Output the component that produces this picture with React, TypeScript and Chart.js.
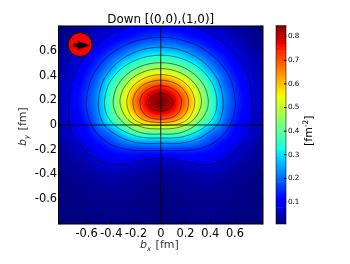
import React, { useEffect, useRef } from "react";
import { Chart, registerables } from "chart.js";

Chart.register(...registerables);

const FONT = "'DejaVu Sans'";
const titleText = "Down [(0,0),(1,0)]";
const tickValues = [-0.8, -0.6, -0.4, -0.2, 0, 0.2, 0.4, 0.6, 0.8];
const unlabelledTicks = [-0.8, 0.8];
const colorbarTicks = [0.1, 0.2, 0.3, 0.4, 0.5, 0.6, 0.7, 0.8];
const colorMin = 0.007;
const colorMax = 0.847;

// Density. Rows: b_y from 0.80 down to -0.80 in 0.05 steps.
// Columns: |b_x| = 0, 0.1 ... 0.8; the picture is mirror-symmetric in b_x.
const density: number[][] = [
  [0.106, 0.103, 0.095, 0.072, 0.055, 0.040, 0.028, 0.018, 0.011],
  [0.136, 0.130, 0.115, 0.095, 0.076, 0.056, 0.038, 0.024, 0.014],
  [0.168, 0.162, 0.140, 0.120, 0.095, 0.072, 0.050, 0.031, 0.018],
  [0.218, 0.210, 0.183, 0.155, 0.120, 0.088, 0.062, 0.038, 0.022],
  [0.275, 0.265, 0.235, 0.190, 0.148, 0.108, 0.073, 0.047, 0.028],
  [0.340, 0.330, 0.285, 0.235, 0.180, 0.132, 0.088, 0.056, 0.033],
  [0.410, 0.390, 0.345, 0.290, 0.212, 0.150, 0.102, 0.064, 0.038],
  [0.490, 0.470, 0.405, 0.340, 0.245, 0.170, 0.115, 0.072, 0.042],
  [0.580, 0.550, 0.480, 0.385, 0.290, 0.195, 0.128, 0.080, 0.046],
  [0.665, 0.625, 0.545, 0.435, 0.330, 0.210, 0.140, 0.087, 0.050],
  [0.750, 0.700, 0.600, 0.475, 0.356, 0.225, 0.150, 0.095, 0.052],
  [0.815, 0.765, 0.650, 0.508, 0.375, 0.240, 0.157, 0.100, 0.054],
  [0.845, 0.790, 0.672, 0.515, 0.380, 0.245, 0.160, 0.100, 0.055],
  [0.840, 0.785, 0.662, 0.515, 0.380, 0.240, 0.158, 0.098, 0.055],
  [0.785, 0.745, 0.622, 0.500, 0.370, 0.235, 0.150, 0.095, 0.053],
  [0.700, 0.665, 0.565, 0.455, 0.350, 0.225, 0.140, 0.092, 0.050],
  [0.565, 0.555, 0.495, 0.395, 0.300, 0.205, 0.125, 0.089, 0.047],
  [0.430, 0.430, 0.410, 0.330, 0.235, 0.175, 0.113, 0.083, 0.044],
  [0.330, 0.325, 0.315, 0.260, 0.190, 0.150, 0.100, 0.075, 0.040],
  [0.235, 0.233, 0.225, 0.200, 0.160, 0.120, 0.088, 0.060, 0.033],
  [0.165, 0.163, 0.160, 0.150, 0.130, 0.098, 0.070, 0.047, 0.027],
  [0.105, 0.103, 0.112, 0.110, 0.100, 0.085, 0.060, 0.038, 0.024],
  [0.058, 0.062, 0.078, 0.085, 0.085, 0.070, 0.045, 0.032, 0.020],
  [0.035, 0.040, 0.050, 0.060, 0.065, 0.050, 0.035, 0.025, 0.017],
  [0.022, 0.028, 0.035, 0.040, 0.045, 0.038, 0.028, 0.020, 0.014],
  [0.016, 0.021, 0.027, 0.031, 0.034, 0.030, 0.023, 0.017, 0.012],
  [0.012, 0.016, 0.022, 0.026, 0.027, 0.024, 0.019, 0.014, 0.011],
  [0.010, 0.014, 0.018, 0.021, 0.022, 0.020, 0.016, 0.012, 0.010],
  [0.009, 0.012, 0.016, 0.018, 0.018, 0.017, 0.014, 0.011, 0.009],
  [0.008, 0.011, 0.014, 0.016, 0.016, 0.015, 0.013, 0.010, 0.008],
  [0.008, 0.010, 0.013, 0.014, 0.014, 0.013, 0.011, 0.009, 0.008],
  [0.007, 0.010, 0.012, 0.013, 0.013, 0.012, 0.010, 0.008, 0.007],
  [0.007, 0.009, 0.011, 0.012, 0.012, 0.011, 0.009, 0.008, 0.007],
];

// Contours (right half, top to bottom), mirrored about b_x = 0 when built.
const contour008 = [[0,0.843],[0.186,0.822],[0.372,0.755],[0.521,0.654],[0.632,0.531],[0.707,0.389],[0.744,0.183],[0.738,0],[0.708,-0.081],[0.655,-0.161],[0.56,-0.256],[0.453,-0.309],[0.358,-0.323],[0.264,-0.315],[0.129,-0.282],[0,-0.268]];
const contour016 = [[0,0.71],[0.151,0.693],[0.302,0.639],[0.422,0.559],[0.513,0.461],[0.573,0.347],[0.603,0.183],[0.593,0.094],[0.56,0],[0.506,-0.081],[0.399,-0.161],[0.264,-0.2],[0.156,-0.207],[0,-0.207]];
const contour024 = [[0,0.63],[0.126,0.616],[0.253,0.57],[0.354,0.502],[0.429,0.419],[0.48,0.322],[0.505,0.183],[0.493,0.081],[0.458,0],[0.399,-0.054],[0.291,-0.115],[0.156,-0.148],[0,-0.148]];
const contour032 = [[0,0.565],[0.114,0.553],[0.228,0.514],[0.319,0.456],[0.387,0.384],[0.432,0.302],[0.455,0.183],[0.435,0.08],[0.375,0],[0.30,-0.05],[0.20,-0.09],[0.10,-0.105],[0,-0.105]];
const contour040 = [[0,0.505],[0.096,0.495],[0.193,0.462],[0.27,0.413],[0.327,0.353],[0.366,0.283],[0.385,0.183],[0.365,0.10],[0.305,0.02],[0.24,-0.03],[0.15,-0.065],[0.06,-0.075],[0,-0.073]];
const contour048 = [[0,0.457],[0.083,0.448],[0.165,0.42],[0.231,0.379],[0.281,0.327],[0.314,0.268],[0.33,0.183],[0.30,0.09],[0.25,0.03],[0.17,-0.012],[0.08,-0.03],[0,-0.032]];
const contour056 = [[0,0.408],[0.069,0.401],[0.138,0.378],[0.193,0.344],[0.234,0.302],[0.261,0.253],[0.275,0.183],[0.255,0.10],[0.21,0.04],[0.13,0.005],[0.06,-0.005],[0,-0.004]];
const contour064 = [[0,0.363],[0.056,0.357],[0.113,0.339],[0.158,0.312],[0.191,0.278],[0.214,0.239],[0.225,0.183],[0.205,0.10],[0.155,0.05],[0.08,0.025],[0,0.02]];
const contour072 = [[0,0.317],[0.042,0.313],[0.084,0.299],[0.118,0.279],[0.143,0.254],[0.16,0.225],[0.168,0.183],[0.155,0.12],[0.11,0.07],[0.05,0.05],[0,0.046]];
const contour080 = [[0,0.256],[0.05,0.245],[0.09,0.21],[0.10,0.18],[0.085,0.145],[0.05,0.12],[0,0.113]];
const contours = [contour008, contour016, contour024, contour032, contour040, contour048, contour056, contour064, contour072, contour080];

const xRange = 0.827;
const yRange = 0.802;
const axisX = [[-0.827, 0], [0.827, 0]];
const axisY = [[0, -0.802], [0, 0.802]];
const spinCentre = [[-0.652, 0.651]];
const spinArrow = [[-0.638, 0.645]];

function lerp(t: number, pts: number[][]) {
  for (let i = 1; i < pts.length; i++) {
    if (t <= pts[i][0]) {
      const [a, va] = pts[i - 1];
      const [b, vb] = pts[i];
      return va + ((t - a) / (b - a)) * (vb - va);
    }
  }
  return pts[pts.length - 1][1];
}
function jet(v: number): [number, number, number] {
  const t = Math.min(1, Math.max(0, (v - colorMin) / (colorMax - colorMin)));
  const r = lerp(t, [[0, 0], [0.35, 0], [0.66, 1], [0.89, 1], [1, 0.5]]);
  const g = lerp(t, [[0, 0], [0.125, 0], [0.375, 1], [0.64, 1], [0.91, 0], [1, 0]]);
  const b = lerp(t, [[0, 0.5], [0.11, 1], [0.34, 1], [0.65, 0], [1, 0]]);
  return [Math.round(r * 255), Math.round(g * 255), Math.round(b * 255)];
}
function cr(a: number, b: number, c: number, d: number, t: number) {
  return 0.5 * (2 * b + (c - a) * t + (2 * a - 5 * b + 4 * c - d) * t * t + (3 * b - a - 3 * c + d) * t * t * t);
}
function sample(x: number, y: number) {
  const cf = Math.abs(x) / 0.1;
  const rf = (0.8 - y) / 0.05;
  const c0 = Math.floor(cf);
  const r0 = Math.floor(rf);
  const col = (i: number) => Math.min(8, Math.abs(i));
  const row = (i: number) => Math.max(0, Math.min(32, i));
  const vals = [-1, 0, 1, 2].map((dr) => {
    const rw = density[row(r0 + dr)];
    return cr(rw[col(c0 - 1)], rw[col(c0)], rw[col(c0 + 1)], rw[col(c0 + 2)], cf - c0);
  });
  return Math.max(0, cr(vals[0], vals[1], vals[2], vals[3], rf - r0));
}

function drawPieces(ctx: CanvasRenderingContext2D, pieces: { t: string; font: string; dy?: number; gap?: number }[]) {
  let x = 0;
  for (const p of pieces) {
    ctx.font = p.font;
    ctx.fillText(p.t, x, p.dy || 0);
    x += ctx.measureText(p.t).width + (p.gap || 0);
  }
}

const heatPlugin = {
  id: "heat",
  beforeDatasetsDraw(chart: any) {
    const { ctx, chartArea: a, scales } = chart;
    const w = Math.ceil(a.right - a.left);
    const h = Math.ceil(a.bottom - a.top);
    const off = document.createElement("canvas");
    off.width = w;
    off.height = h;
    const oc = off.getContext("2d")!;
    const img = oc.createImageData(w, h);
    for (let j = 0; j < h; j++) {
      const yv = scales.y.getValueForPixel(a.top + j + 0.5);
      for (let i = 0; i < w; i++) {
        const xv = scales.x.getValueForPixel(a.left + i + 0.5);
        const [r, g, b] = jet(sample(xv, yv));
        const k = (j * w + i) * 4;
        img.data[k] = r;
        img.data[k + 1] = g;
        img.data[k + 2] = b;
        img.data[k + 3] = 255;
      }
    }
    oc.putImageData(img, 0, 0);
    ctx.drawImage(off, a.left, a.top, a.right - a.left, a.bottom - a.top);
  },
};

const framePlugin = {
  id: "frame",
  afterDatasetsDraw(chart: any) {
    const { ctx, chartArea: a, scales } = chart;
    ctx.save();
    ctx.strokeStyle = "#000";
    ctx.lineWidth = 1;
    ctx.beginPath();
    for (const v of tickValues) {
      const px = scales.x.getPixelForValue(v);
      ctx.moveTo(px, a.top);
      ctx.lineTo(px, a.top + 2.5);
      ctx.moveTo(px, a.bottom);
      ctx.lineTo(px, a.bottom - 2.5);
      const py = scales.y.getPixelForValue(v);
      ctx.moveTo(a.left, py);
      ctx.lineTo(a.left + 2.5, py);
      ctx.moveTo(a.right, py);
      ctx.lineTo(a.right - 2.5, py);
    }
    ctx.stroke();
    ctx.strokeRect(a.left, a.top, a.right - a.left, a.bottom - a.top);
    ctx.restore();

    ctx.save();
    ctx.fillStyle = "#333";
    ctx.textBaseline = "alphabetic";
    const it = `italic 11px ${FONT}`;
    const sub = `italic 7px ${FONT}`;
    const rm = `11px ${FONT}`;
    ctx.save();
    ctx.translate(140, 248);
    drawPieces(ctx, [
      { t: "b", font: it },
      { t: "x", font: sub, dy: 2.5, gap: 1 },
      { t: " [fm]", font: rm },
    ]);
    ctx.restore();
    ctx.save();
    ctx.translate(26, 146);
    ctx.rotate(-Math.PI / 2);
    drawPieces(ctx, [
      { t: "b", font: it },
      { t: "y", font: sub, dy: 2.5, gap: 1 },
      { t: " [fm]", font: rm },
    ]);
    ctx.restore();
    ctx.restore();
  },
};

const colorbarPlugin = {
  id: "colorbarFrame",
  afterDatasetsDraw(chart: any) {
    const { ctx, chartArea: a, scales } = chart;
    ctx.save();
    ctx.strokeStyle = "rgba(0,0,0,0.55)";
    ctx.lineWidth = 1;
    ctx.strokeRect(a.left, a.top, a.right - a.left, a.bottom - a.top);
    ctx.strokeStyle = "#000";
    ctx.beginPath();
    for (const v of colorbarTicks) {
      const py = scales.y.getPixelForValue(v);
      ctx.moveTo(a.right - 2, py);
      ctx.lineTo(a.right + 0.5, py);
    }
    ctx.stroke();
    ctx.restore();
    ctx.save();
    ctx.fillStyle = "#000";
    ctx.textBaseline = "alphabetic";
    ctx.translate(312, 146);
    ctx.rotate(-Math.PI / 2);
    drawPieces(ctx, [
      { t: "[fm", font: `11px ${FONT}` },
      { t: "-2", font: `7.5px ${FONT}`, dy: -4.5 },
      { t: "]", font: `11px ${FONT}` },
    ]);
    ctx.restore();
  },
};

function arrowImage() {
  const c = document.createElement("canvas");
  c.width = 17;
  c.height = 12;
  const x = c.getContext("2d")!;
  x.fillStyle = "#000";
  x.beginPath();
  x.moveTo(16.5, 6);
  x.lineTo(4, 1.5);
  x.lineTo(5.5, 4.2);
  x.lineTo(0.5, 4.2);
  x.lineTo(0.5, 7.8);
  x.lineTo(5.5, 7.8);
  x.lineTo(4, 10.5);
  x.closePath();
  x.fill();
  return c;
}

const toPts = (a: number[][]) => a.map(([x, y]) => ({ x, y }));
const mirrored = (half: number[][]) => [
  ...[...half].reverse().map(([x, y]) => ({ x: -x, y })),
  ...half.slice(1).map(([x, y]) => ({ x, y })),
];

export default function App() {
  const mainRef = useRef<HTMLCanvasElement>(null);
  const barRef = useRef<HTMLCanvasElement>(null);

  useEffect(() => {
    const tickList = (scale: any) => {
      scale.ticks = tickValues.map((value) => ({ value }));
    };
    const tickText = (v: any) => {
      const n = Number(v);
      if (unlabelledTicks.includes(n)) return "";
      return n === 0 ? "0" : n.toFixed(1);
    };
    const main = new Chart(mainRef.current!, {
      type: "scatter",
      data: {
        datasets: [
          { data: toPts(spinArrow), pointStyle: arrowImage() as any, pointRadius: 8, showLine: false },
          { data: toPts(spinCentre), pointRadius: 12, pointBackgroundColor: "#ff0000", pointBorderColor: "#000", pointBorderWidth: 1, showLine: false },
          { data: toPts(axisX), showLine: true, borderColor: "rgba(0,0,0,0.85)", borderWidth: 1, pointRadius: 0 },
          { data: toPts(axisY), showLine: true, borderColor: "rgba(0,0,0,0.85)", borderWidth: 1, pointRadius: 0 },
          ...contours.map((c) => ({
            data: mirrored(c),
            showLine: true,
            borderColor: "rgba(0,0,0,0.7)",
            borderWidth: 0.7,
            pointRadius: 0,
            tension: 0.35,
          })),
        ],
      },
      options: {
        responsive: false,
        animation: false,
        events: [],
        layout: { padding: { left: 0, right: 87, top: 0, bottom: 0 } },
        plugins: {
          legend: { display: false },
          tooltip: { enabled: false },
          title: {
            display: true,
            text: titleText,
            fullSize: false,
            color: "#000",
            font: { family: FONT, size: 11.9, weight: "normal" },
            padding: { top: 13, bottom: -1.3 },
          },
        },
        scales: {
          x: {
            type: "linear",
            min: -xRange,
            max: xRange,
            afterBuildTicks: tickList,
            afterFit: (s: any) => { s.height = 40; },
            grid: { display: false, drawTicks: false },
            border: { display: false },
            ticks: { callback: tickText, autoSkip: false, maxRotation: 0, padding: 3, color: "#000", font: { family: FONT, size: 11.4 } },
          },
          y: {
            type: "linear",
            min: -yRange,
            max: yRange,
            afterBuildTicks: tickList,
            afterFit: (s: any) => { s.width = 58.5; },
            grid: { display: false, drawTicks: false },
            border: { display: false },
            ticks: { callback: tickText, autoSkip: false, padding: 1.5, color: "#000", font: { family: FONT, size: 11.4 } },
          },
        },
      } as any,
      plugins: [heatPlugin, framePlugin],
    });

    const steps = 84;
    const bands = Array.from({ length: steps }, (_, i) => {
      const lo = colorMin + ((colorMax - colorMin) * i) / steps;
      const hi = colorMin + ((colorMax - colorMin) * (i + 1)) / steps;
      const [r, g, b] = jet((lo + hi) / 2);
      return { data: [[lo, hi]], backgroundColor: `rgb(${r},${g},${b})`, borderWidth: 0, categoryPercentage: 1, barPercentage: 1 };
    });
    const bar = new Chart(barRef.current!, {
      type: "bar",
      data: { labels: ["density"], datasets: bands as any },
      options: {
        responsive: false,
        animation: false,
        events: [],
        layout: { padding: { left: 276, right: 34, top: 25.5, bottom: 40 } },
        plugins: { legend: { display: false }, tooltip: { enabled: false } },
        scales: {
          x: { stacked: true, display: false },
          y: {
            position: "right",
            min: colorMin,
            max: colorMax,
            afterBuildTicks: (s: any) => { s.ticks = colorbarTicks.map((value) => ({ value })); },
            afterFit: (s: any) => { s.width = 30; },
            grid: { display: false, drawTicks: false },
            border: { display: false },
            ticks: { callback: (v: any) => Number(v).toFixed(1), autoSkip: false, padding: 2, color: "#000", font: { family: FONT, size: 7.2 } },
          },
        },
      } as any,
      plugins: [colorbarPlugin],
    });

    return () => {
      main.destroy();
      bar.destroy();
    };
  }, []);

  const style: React.CSSProperties = { position: "absolute", left: 0, top: 0, display: "block" };
  return (
    <div style={{ position: "fixed", left: 0, top: 0, width: 350, height: 264, background: "#fff" }}>
      <canvas ref={mainRef} width={350} height={264} style={style} />
      <canvas ref={barRef} width={350} height={264} style={style} />
    </div>
  );
}
